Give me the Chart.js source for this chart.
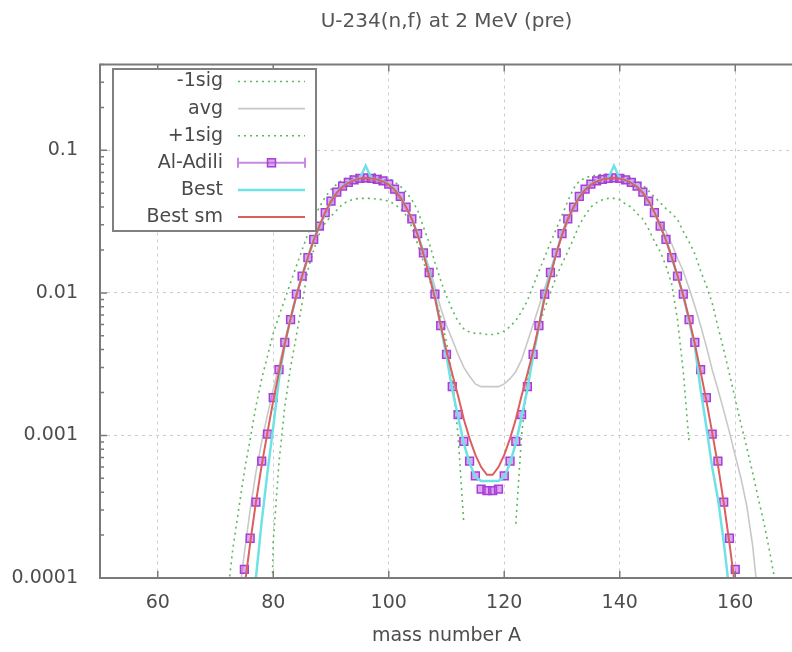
<!DOCTYPE html>
<html>
<head>
<meta charset="utf-8">
<script src="https://cdn.jsdelivr.net/npm/chart.js@4.4.0/dist/chart.umd.min.js"></script>
<style>
  html, body { margin: 0; padding: 0; background: #fff; overflow: hidden; }
  #wrap { width: 800px; height: 652px; }
</style>
</head>
<body>
<div id="wrap"><canvas id="chart" width="800" height="652"></canvas></div>
<script>
// mass numbers used by every series (one value per entry, null = not plotted)
const massNumbers = [
   70, 71, 72, 73, 74, 75, 76, 77, 78, 79,
   80, 81, 82, 83, 84, 85, 86, 87, 88, 89,
   90, 91, 92, 93, 94, 95, 96, 97, 98, 99,
  100,101,102,103,104,105,106,107,108,109,
  110,111,112,113,114,115,116,117,118,119,
  120,121,122,123,124,125,126,127,128,129,
  130,131,132,133,134,135,136,137,138,139,
  140,141,142,143,144,145,146,147,148,149,
  150,151,152,153,154,155,156,157,158,159,
  160,161,162,163,164,165,166,167,168,169,170
];

const minus1sig = [
  null,null,null,null,null,null,null,null,null,3e-6,
  1.8e-4,6.5e-4,1.6e-3,3.0e-3,5.0e-3,8.5e-3,0.0145,0.020,0.026,0.031,
  0.0345,0.038,0.042,0.044,0.0455,0.046,0.046,0.046,0.0455,0.045,
  0.044,0.042,0.039,0.035,0.029,0.022,0.0165,0.0125,0.0095,0.0068,
  0.0045,0.0026,0.0010,2.4e-4,null,null,null,null,null,null,
  null,null,2.4e-4,0.0010,0.0024,0.0040,0.0058,0.0078,0.0100,0.0130,
  0.0160,0.0195,0.024,0.030,0.035,0.040,0.043,0.045,0.046,0.046,
  0.045,0.042,0.040,0.036,0.033,0.028,0.023,0.0195,0.0155,0.0115,
  0.0065,0.0028,0.0009,null,null,null,null,null,null,null,
  null,null,null,null,null,null,null,null,null,null,null
];

const avg = [
  null,null,null,3e-5,7e-5,1.5e-4,3.0e-4,5.5e-4,9.0e-4,1.4e-3,
  2.1e-3,3.1e-3,4.6e-3,6.6e-3,9.5e-3,0.0128,0.0172,0.0225,0.0285,0.035,
  0.042,0.048,0.0535,0.0575,0.0605,0.062,0.0625,0.062,0.0605,0.058,
  0.055,0.050,0.045,0.039,0.0325,0.026,0.020,0.015,0.011,0.0078,
  0.0059,0.0047,0.0037,0.0030,0.0026,0.0023,0.0022,0.0022,0.0022,0.0022,
  0.0023,0.0025,0.0028,0.0034,0.0045,0.006,0.008,0.0108,0.0145,0.019,
  0.025,0.031,0.038,0.045,0.051,0.056,0.0595,0.062,0.063,0.0635,
  0.063,0.061,0.058,0.054,0.049,0.043,0.037,0.031,0.027,0.022,
  0.0175,0.0142,0.0108,0.0081,0.0059,0.0042,0.0029,0.0021,0.0015,0.00105,
  7.2e-4,5e-4,3.2e-4,1.7e-4,7e-5,null,null,null,null,null,null
];

const plus1sig = [
  1.5e-5,3.5e-5,7e-5,1.6e-4,3.0e-4,5.6e-4,9.4e-4,1.6e-3,2.5e-3,3.6e-3,
  5.2e-3,6.9e-3,9.0e-3,0.0118,0.0154,0.020,0.026,0.033,0.040,0.047,
  0.053,0.058,0.062,0.065,0.067,0.068,0.069,0.069,0.068,0.066,
  0.063,0.060,0.056,0.051,0.045,0.038,0.029,0.0225,0.0163,0.0122,
  0.0095,0.0076,0.0063,0.0056,0.0053,0.0052,0.0052,0.0051,0.0051,0.0052,
  0.0054,0.0058,0.0064,0.0074,0.0088,0.0112,0.0142,0.0178,0.0225,0.028,
  0.035,0.044,0.054,0.061,0.064,0.066,0.067,0.068,0.068,0.068,
  0.0675,0.066,0.064,0.061,0.057,0.052,0.047,0.043,0.039,0.036,
  0.0328,0.027,0.0228,0.0188,0.0143,0.0112,0.0085,0.0058,0.004,0.0027,
  0.0018,0.0012,8.2e-4,5.5e-4,3.6e-4,2.4e-4,1.5e-4,9e-5,4.5e-5,null,null
];

const alAdili = [
  null,null,null,null,null,1.15e-4,1.9e-4,3.4e-4,6.6e-4,1.02e-3,
  1.84e-3,2.9e-3,4.5e-3,6.5e-3,9.8e-3,0.0131,0.0177,0.0237,0.0294,0.0366,
  0.044,0.051,0.056,0.0595,0.062,0.0635,0.064,0.0635,0.0625,0.061,
  0.058,0.0535,0.0475,0.040,0.033,0.026,0.0191,0.0139,0.0098,0.0059,
  0.0037,0.0022,0.0014,9.1e-4,6.6e-4,5.2e-4,4.2e-4,4.1e-4,4.1e-4,4.2e-4,
  5.2e-4,6.6e-4,9.1e-4,0.0014,0.0022,0.0037,0.0059,0.0098,0.0139,0.0191,
  0.026,0.033,0.040,0.0475,0.0535,0.058,0.061,0.0625,0.0635,0.064,
  0.0635,0.062,0.0595,0.056,0.051,0.044,0.0366,0.0294,0.0237,0.0177,
  0.0131,0.0098,0.0065,0.0045,0.0029,1.84e-3,1.02e-3,6.6e-4,3.4e-4,1.9e-4,
  1.15e-4,null,null,null,null,null,null,null,null,null,null
];

const best = [
  null,null,null,null,null,null,4e-5,1.0e-4,2.5e-4,5.5e-4,
  1.15e-3,2.5e-3,4.4e-3,6.6e-3,9.6e-3,0.0132,0.0178,0.0238,0.0295,0.0365,
  0.044,0.051,0.056,0.0595,0.062,0.0635,0.078,0.0635,0.0625,0.061,
  0.058,0.0535,0.0475,0.040,0.033,0.026,0.0191,0.0139,0.0097,0.0058,
  0.0036,0.0021,0.00135,8.8e-4,6.4e-4,5.1e-4,4.8e-4,4.8e-4,4.8e-4,4.8e-4,
  5.1e-4,6.4e-4,8.8e-4,0.00135,0.0021,0.0036,0.0058,0.0097,0.0139,0.0191,
  0.026,0.033,0.040,0.0475,0.0535,0.058,0.061,0.0625,0.0635,0.078,
  0.0635,0.062,0.0595,0.056,0.051,0.044,0.0366,0.0294,0.0237,0.0177,
  0.0131,0.0096,0.0064,0.0042,0.0021,0.00115,6e-4,3.6e-4,1.8e-4,8e-5,
  3e-5,null,null,null,null,null,null,null,null,null,null
];

const bestSm = [
  null,null,null,null,4e-5,8.5e-5,1.75e-4,3.4e-4,6.2e-4,1.05e-3,
  1.75e-3,2.8e-3,4.4e-3,6.6e-3,9.6e-3,0.0132,0.0178,0.0235,0.0295,0.0368,
  0.044,0.0505,0.0555,0.0592,0.0618,0.0635,0.064,0.0635,0.0625,0.0605,
  0.0575,0.053,0.047,0.040,0.033,0.0255,0.0188,0.0132,0.0092,0.0059,
  0.0039,0.0027,0.0019,0.0013,9.5e-4,7.3e-4,6.0e-4,5.3e-4,5.3e-4,6.0e-4,
  7.3e-4,9.5e-4,0.0013,0.0019,0.0027,0.0039,0.0059,0.0092,0.0132,0.0188,
  0.0255,0.033,0.040,0.047,0.053,0.0575,0.0605,0.0625,0.0635,0.064,
  0.0635,0.0618,0.0592,0.0555,0.0505,0.044,0.0368,0.0295,0.0235,0.0178,
  0.0132,0.0096,0.0066,0.0044,0.0028,1.75e-3,1.05e-3,6.2e-4,3.4e-4,1.75e-4,
  8.5e-5,4e-5,null,null,null,null,null,null,null,null,null
];

const xTicks = [60, 80, 100, 120, 140, 160];
const yTicks = [0.0001, 0.001, 0.01, 0.1];
const yTickLabels = ['0.0001', '0.001', '0.01', '0.1'];

const toPoints = vals => massNumbers.map((m, i) => ({ x: m, y: vals[i] }));

const green = '#5db85d';

// gnuplot style frame: inward ticks, minor log ticks, border and key box
const framePlugin = {
  id: 'frame',
  afterDraw(chart) {
    const { ctx, chartArea: a, scales: { x, y } } = chart;
    ctx.save();
    ctx.strokeStyle = '#7a7a7a';
    ctx.lineWidth = 1.5;
    ctx.beginPath();
    xTicks.forEach(v => {
      const px = x.getPixelForValue(v);
      ctx.moveTo(px, a.bottom); ctx.lineTo(px, a.bottom - 7);
      ctx.moveTo(px, a.top); ctx.lineTo(px, a.top + 7);
    });
    yTicks.forEach(v => {
      const py = y.getPixelForValue(v);
      ctx.moveTo(a.left, py); ctx.lineTo(a.left + 7, py);
    });
    yTicks.forEach(d => {
      for (let k = 2; k <= 9; k++) {
        const v = d * k;
        if (v > y.max) break;
        const py = y.getPixelForValue(v);
        ctx.moveTo(a.left, py); ctx.lineTo(a.left + 4, py);
      }
    });
    ctx.stroke();
    ctx.lineWidth = 2;
    ctx.strokeRect(a.left, a.top, a.right - a.left, a.bottom - a.top);

    // key
    const bx = a.left + 13, by = a.top + 4.5, bw = 203, bh = 162;
    ctx.fillStyle = '#fff';
    ctx.fillRect(bx, by, bw, bh);
    ctx.strokeStyle = '#808080';
    ctx.lineWidth = 2;
    ctx.strokeRect(bx, by, bw, bh);
    ctx.font = '19px "DejaVu Sans"';
    ctx.textAlign = 'right';
    ctx.textBaseline = 'middle';
    const x0 = bx + 125, x1 = bx + 192;
    chart.data.datasets.forEach((ds, i) => {
      const cy = by + 12.5 + i * 27.1;
      ctx.fillStyle = '#4a4a4a';
      ctx.fillText(ds.label, bx + 110, cy);
      ctx.save();
      if (ds.showLine === false) {
        ctx.strokeStyle = '#c68ae0';
        ctx.lineWidth = 2;
        ctx.beginPath();
        ctx.moveTo(x0, cy); ctx.lineTo(x1, cy);
        ctx.moveTo(x0, cy - 5); ctx.lineTo(x0, cy + 5);
        ctx.moveTo(x1, cy - 5); ctx.lineTo(x1, cy + 5);
        ctx.stroke();
        const mx = (x0 + x1) / 2;
        ctx.fillStyle = ds.backgroundColor;
        ctx.fillRect(mx - 4, cy - 4, 8, 8);
        ctx.strokeStyle = ds.borderColor;
        ctx.lineWidth = 1.5;
        ctx.strokeRect(mx - 4, cy - 4, 8, 8);
      } else {
        ctx.setLineDash(ds.borderDash || []);
        ctx.strokeStyle = ds.borderColor;
        ctx.lineWidth = ds.borderWidth;
        ctx.beginPath();
        ctx.moveTo(x0, cy); ctx.lineTo(x1, cy);
        ctx.stroke();
      }
      ctx.restore();
    });
    ctx.restore();
  }
};

Chart.defaults.font.family = '"DejaVu Sans", sans-serif';
Chart.defaults.font.size = 19;
Chart.defaults.color = '#4d4d4d';

const lineDefaults = { pointRadius: 0, pointHoverRadius: 0, tension: 0, spanGaps: false };

new Chart(document.getElementById('chart').getContext('2d'), {
  type: 'line',
  data: {
    datasets: [
      { ...lineDefaults, label: '-1sig', data: toPoints(minus1sig), borderColor: green, borderWidth: 1.6, borderDash: [2, 4], order: 6 },
      { ...lineDefaults, label: 'avg', data: toPoints(avg), borderColor: '#c8c8c8', borderWidth: 1.6, order: 5 },
      { ...lineDefaults, label: '+1sig', data: toPoints(plus1sig), borderColor: green, borderWidth: 1.6, borderDash: [2, 4], order: 4 },
      { label: 'Al-Adili', data: toPoints(alAdili), showLine: false, pointStyle: 'rect', pointRadius: 5.5,
        pointBorderWidth: 1.5, borderColor: '#a63ed8', backgroundColor: 'rgba(185,80,225,0.5)', order: 3 },
      { ...lineDefaults, label: 'Best', data: toPoints(best), borderColor: '#6fe2e6', borderWidth: 2.5, order: 2 },
      { ...lineDefaults, label: 'Best sm', data: toPoints(bestSm), borderColor: '#dc5f5f', borderWidth: 2, order: 1 }
    ]
  },
  options: {
    responsive: false,
    animation: false,
    devicePixelRatio: 1,
    events: [],
    layout: { padding: { left: 0, right: 3, top: 0, bottom: 0 } },
    plugins: {
      legend: { display: false },
      tooltip: { enabled: false },
      title: {
        display: true,
        text: 'U-234(n,f) at 2 MeV (pre)',
        fullSize: false,
        color: '#555',
        font: { size: 20, weight: 'normal' },
        padding: { top: 10, bottom: 30.5 }
      }
    },
    scales: {
      x: {
        type: 'linear',
        min: 50,
        max: 170,
        afterFit: s => { s.height = 74; },
        afterBuildTicks: s => { s.ticks = xTicks.map(v => ({ value: v })); },
        grid: { color: '#cccccc', lineWidth: 1, drawTicks: false },
        border: { display: false, dash: [3, 4] },
        ticks: { padding: 14, maxRotation: 0 },
        title: { display: true, text: 'mass number A', padding: { top: 0, bottom: 5 } }
      },
      y: {
        type: 'logarithmic',
        min: 0.0001,
        max: 0.4,
        afterFit: s => { s.width = 100; },
        afterBuildTicks: s => { s.ticks = yTicks.map(v => ({ value: v })); },
        grid: { color: '#cccccc', lineWidth: 1, drawTicks: false },
        border: { display: false, dash: [3, 4] },
        ticks: { padding: 22, callback: (v, i) => yTickLabels[i] }
      }
    }
  },
  plugins: [framePlugin]
});
</script>
</body>
</html>
